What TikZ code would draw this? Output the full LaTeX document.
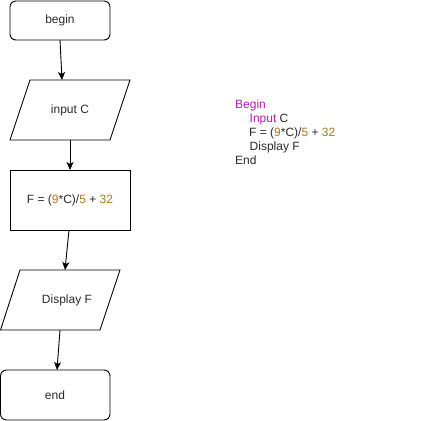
\documentclass[tikz,border=0pt]{standalone}
\usepackage{fontspec}
\setmainfont{Liberation Sans}
\usetikzlibrary{arrows.meta}
\definecolor{mag}{HTML}{B01FAE}
\definecolor{num}{HTML}{A87A1C}
\definecolor{txt}{HTML}{2A2A2A}
\begin{document}
\begin{tikzpicture}[x=1pt,y=-1pt,
 box/.style={draw=black,line width=0.9pt},
 lbl/.style={font=\fontsize{12}{14}\selectfont,text=txt,inner sep=0pt},
 code/.style={font=\fontsize{12}{14}\selectfont,text=txt,anchor=base west,inner sep=0pt},
 arr/.style={-{Stealth[length=8pt,width=7pt,inset=2pt]},line width=0.9pt}]
\useasboundingbox (0,0) rectangle (421,421);
% begin
\draw[box,rounded corners=6pt] (10,1) rectangle (110,40);
\node[lbl] (begin) at (60,20.5) {begin};
% input
\draw[box] (30,80) -- (130,80) -- (110,140) -- (10,140) -- cycle;
\node[lbl] (input) at (70,110.5) {input C};
% formula box
\draw[box] (10,170) rectangle (130,230);
\node[lbl] (calc) at (70,200.5) {F = (\textcolor{num}{9}*C)/\textcolor{num}{5} + \textcolor{num}{32}};
% display
\draw[box] (20,270) -- (120,270) -- (100,330) -- (0.5,330) -- cycle;
\node[lbl] (disp) at (67,300.5) {Display F};
% end
\draw[box,rounded corners=6pt] (0.5,370) rectangle (110,420);
\node[lbl] (end) at (55,395.5) {end};
% connectors
\coordinate (a1) at (60,40);  \coordinate (a2) at (62,80);
\coordinate (b1) at (70,140); \coordinate (b2) at (70,170);
\coordinate (c1) at (69,230); \coordinate (c2) at (65,270);
\coordinate (d1) at (60,330); \coordinate (d2) at (57,370);
\draw[arr] (a1) -- (a2);
\draw[arr] (b1) -- (b2);
\draw[arr] (c1) -- (c2);
\draw[arr] (d1) -- (d2);
% pseudo code
\node[code,text=mag] (l1) at (235,108) {Begin};
\node[code] (l2) at (249.5,122) {\textcolor{mag}{Input} C};
\node[code] (l3) at (249,136) {F = (\textcolor{num}{9}*C)/\textcolor{num}{5} + \textcolor{num}{32}};
\node[code] (l4) at (249.5,150) {Display F};
\node[code] (l5) at (235,164) {End};
\end{tikzpicture}
\end{document}
